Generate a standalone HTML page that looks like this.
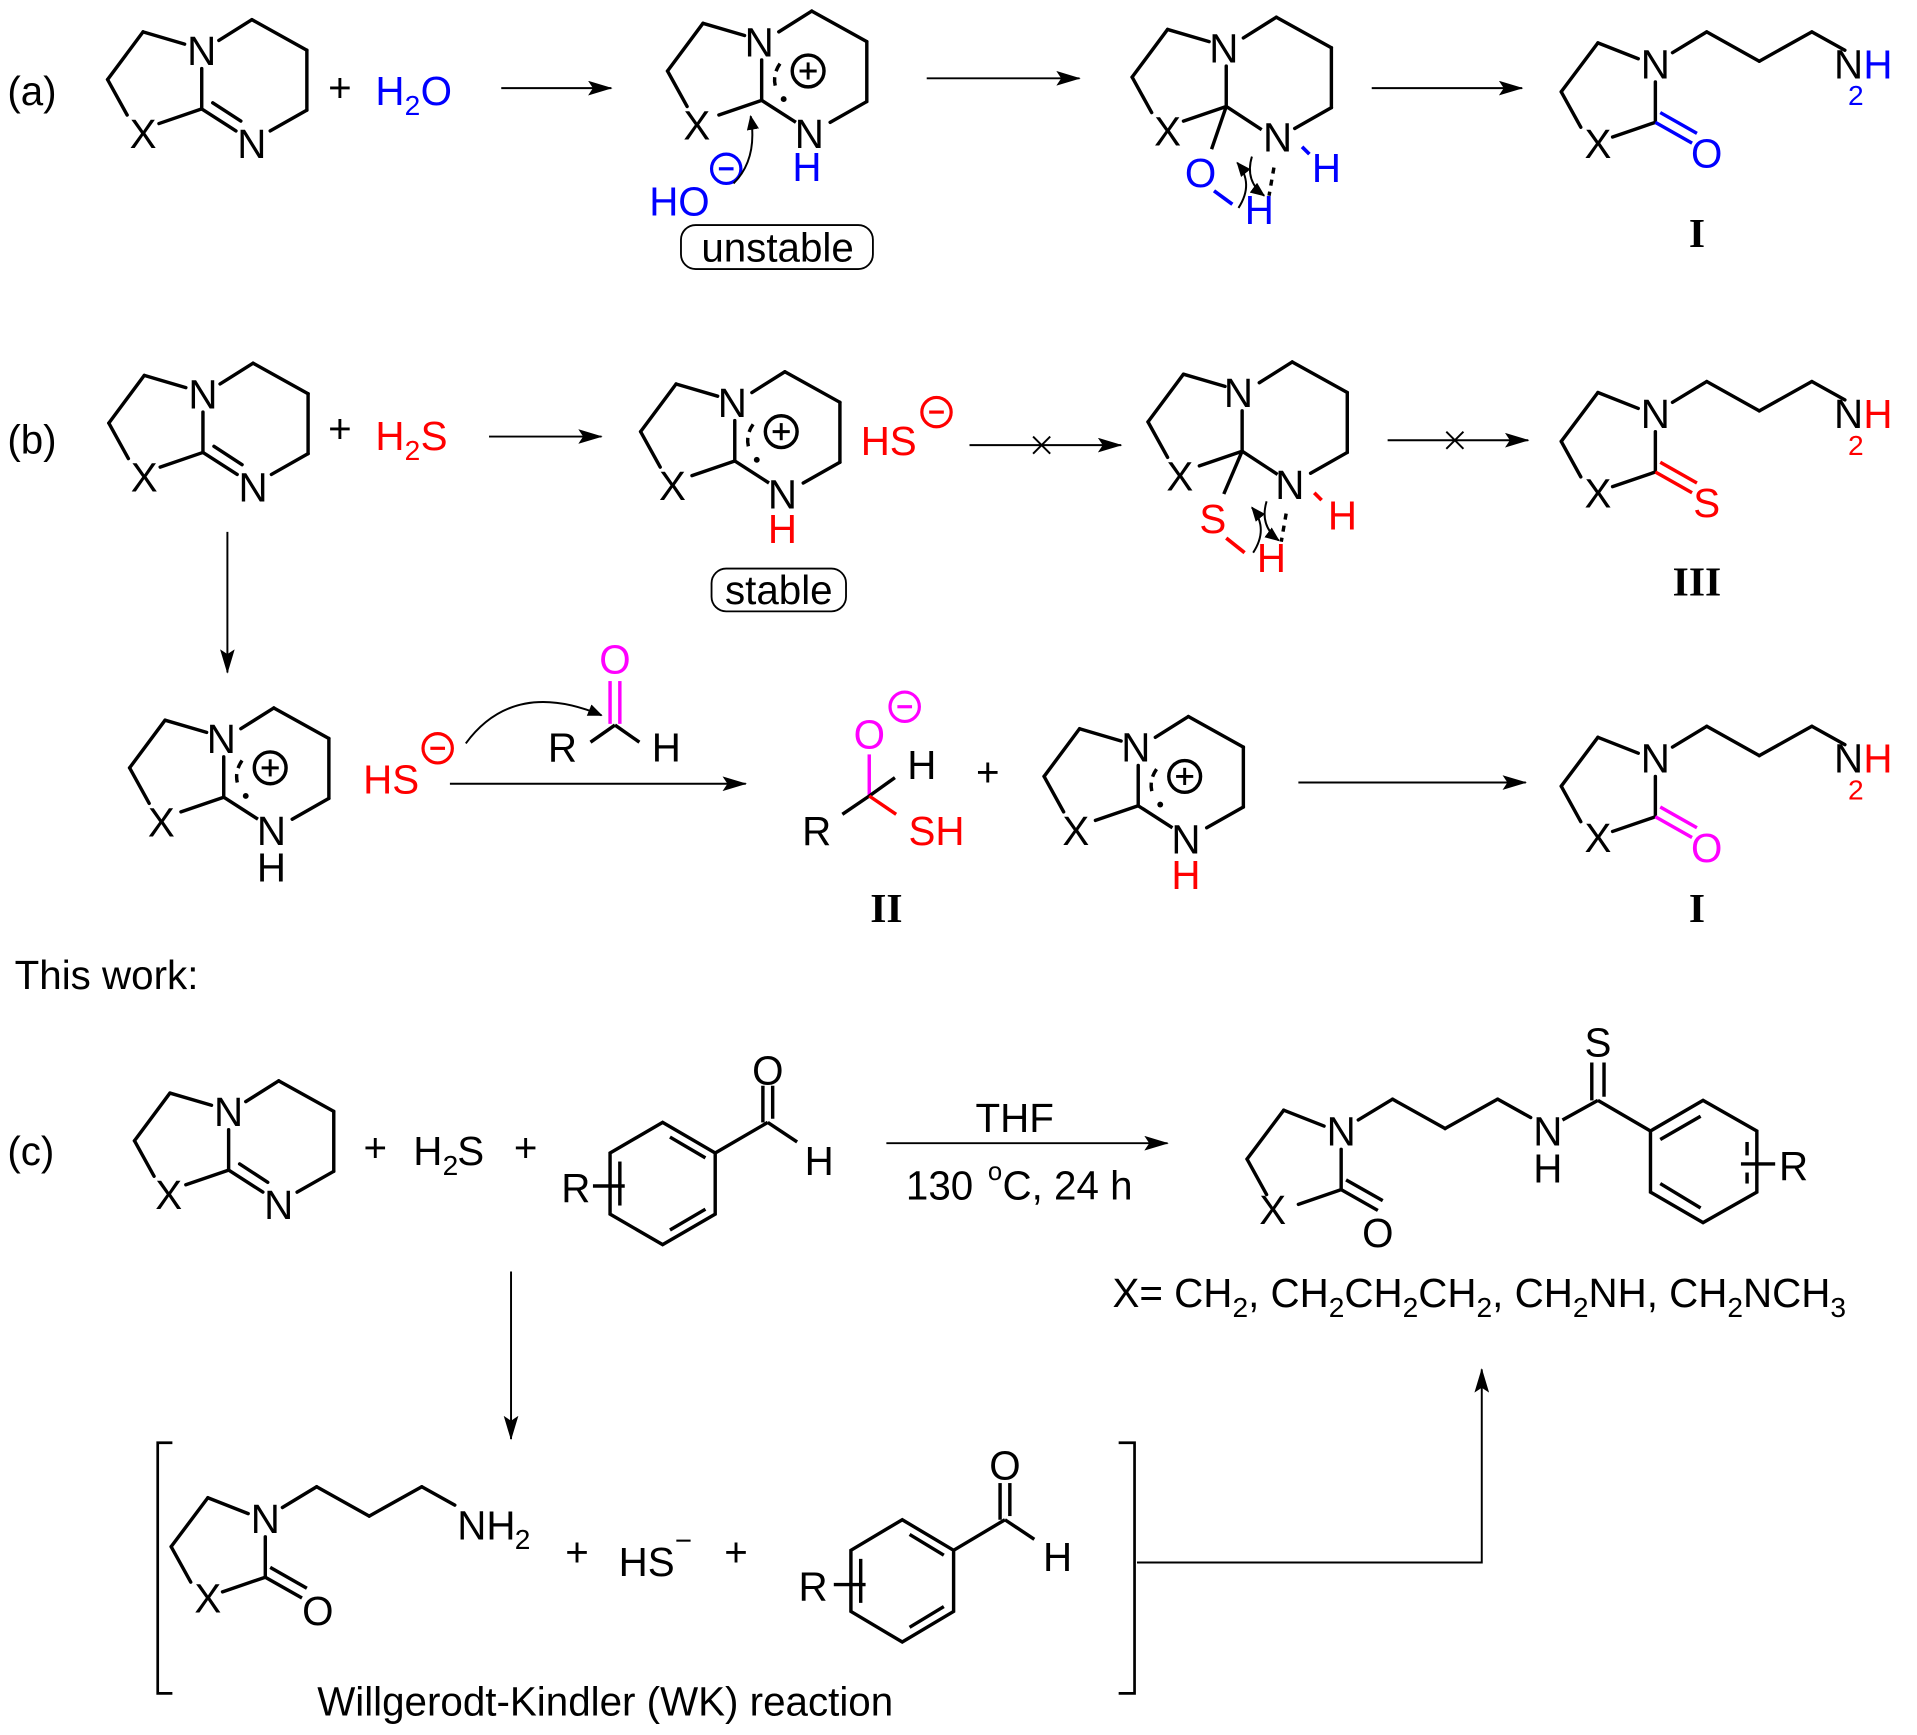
<!DOCTYPE html>
<html><head><meta charset="utf-8"><style>
html,body{margin:0;padding:0;background:#fff;}
svg{display:block;}
text{font-family:"Liberation Sans",sans-serif;font-size:33px;}
.c{text-anchor:middle;}
.b{fill:#0000ff}.r{fill:#ff0000}.m{fill:#ff00ff}
.s{font-size:23px;}
.rm{font-family:"Liberation Serif",serif;font-weight:bold;font-size:34px;text-anchor:middle;}
</style></head><body>
<svg width="1917" height="1735" viewBox="0 0 1568 1419" xmlns="http://www.w3.org/2000/svg">
<defs>
<marker id="ah" markerWidth="12" markerHeight="10" refX="11" refY="5" orient="auto" markerUnits="userSpaceOnUse" viewBox="0 0 12 10"><path d="M0,0 L12,5 L0,10 Z" fill="#000"/></marker>
<marker id="ah2" markerWidth="20" markerHeight="12" refX="19" refY="6" orient="auto" markerUnits="userSpaceOnUse" viewBox="0 0 20 12"><path d="M0,0 L20,6 L0,12 L4,6 Z" fill="#000"/></marker>
<g id="ring" stroke="#000" stroke-width="2.8" fill="none" stroke-linecap="round">
<line x1="0" y1="0" x2="0" y2="-33"/>
<line x1="-14" y1="-53" x2="-48" y2="-63"/>
<line x1="-48" y1="-63" x2="-77" y2="-24"/>
<line x1="-77" y1="-24" x2="-61" y2="5"/>
<line x1="-35" y1="12" x2="0" y2="0"/>
<line x1="14" y1="-56" x2="41" y2="-73"/>
<line x1="41" y1="-73" x2="86" y2="-48"/>
<line x1="86" y1="-48" x2="86" y2="1"/>
<line x1="86" y1="1" x2="56" y2="18"/>
</g>
<g id="amd"><use href="#ring"/>
<g stroke="#000" stroke-width="2.8" stroke-linecap="round"><line x1="0" y1="0" x2="28" y2="18"/><line x1="9" y1="-5" x2="32" y2="10"/></g></g>
<g id="amdp"><use href="#ring"/>
<g stroke="#000" stroke-width="2.8" fill="none"><line x1="0" y1="0" x2="28" y2="18"/>
<path d="M15,-30 Q8,-20 12,-9" stroke-dasharray="7 5"/><circle cx="38" cy="-24" r="13"/>
<line x1="31" y1="-24" x2="45" y2="-24" stroke-width="2.4"/><line x1="38" y1="-31" x2="38" y2="-17" stroke-width="2.4"/></g>
<circle cx="18" cy="-1" r="2.4" fill="#000"/></g>
<g id="prod" stroke="#000" stroke-width="2.8" fill="none" stroke-linecap="round">
<line x1="-14" y1="-4" x2="-47" y2="-17"/>
<line x1="-47" y1="-17" x2="-77" y2="23"/>
<line x1="-77" y1="23" x2="-61" y2="52"/>
<line x1="-35" y1="60" x2="0" y2="48"/>
<line x1="0" y1="48" x2="0" y2="15"/>
<line x1="14" y1="-9" x2="42" y2="-26"/>
<line x1="42" y1="-26" x2="85" y2="-2"/>
<line x1="85" y1="-2" x2="128" y2="-26"/>
<line x1="128" y1="-26" x2="155" y2="-11"/>
</g>
</defs>

<!-- (a) -->
<text x="6" y="86">(a)</text>
<use href="#amd" x="165" y="89"/>
<text x="165" y="53" class="c">N</text><text x="117" y="121" class="c">X</text><text x="206" y="129" class="c">N</text>
<text x="278" y="83" class="c">+</text>
<text x="307" y="86" class="b">H</text><text x="331" y="94" class="b s">2</text><text x="344" y="86" class="b">O</text>
<line x1="410" y1="72" x2="500" y2="72" stroke="#000" stroke-width="1.6" marker-end="url(#ah2)"/>

<use href="#amdp" x="623" y="82"/>
<text x="621" y="46" class="c">N</text><text x="570" y="114" class="c">X</text><text x="662" y="121" class="c">N</text><text x="660" y="148" class="c b">H</text>
<text x="531" y="176" class="b">HO</text>
<circle cx="594" cy="138" r="12" fill="none" stroke="#0000ff" stroke-width="2.6"/><line x1="588" y1="138" x2="600" y2="138" stroke="#0000ff" stroke-width="2.6"/>
<path d="M600,150 Q620,130 614,95" fill="none" stroke="#000" stroke-width="1.6" marker-end="url(#ah)"/>
<rect x="557" y="184" width="157" height="36" rx="12" fill="none" stroke="#000" stroke-width="1.5"/>
<text x="636" y="214" class="c">unstable</text>
<line x1="758" y1="64" x2="883" y2="64" stroke="#000" stroke-width="1.6" marker-end="url(#ah2)"/>

<use href="#ring" x="1003" y="87"/>
<g stroke="#000" stroke-width="2.8"><line x1="1003" y1="87" x2="1032" y2="106"/><line x1="1003" y1="87" x2="991" y2="122"/></g>
<text x="1001" y="51" class="c">N</text><text x="955" y="119" class="c">X</text><text x="1045" y="124" class="c">N</text>
<text x="982" y="153" class="c b">O</text><text x="1085" y="149" class="c b">H</text><text x="1030" y="183" class="c b">H</text>
<line x1="993" y1="156" x2="1008" y2="167" stroke="#0000ff" stroke-width="3"/>
<line x1="1065" y1="120" x2="1071" y2="126" stroke="#0000ff" stroke-width="3"/>
<line x1="1042" y1="137" x2="1038" y2="160" stroke="#000" stroke-width="2.8" stroke-dasharray="5 5"/>
<path d="M1013,170 Q1026,150 1012,133" fill="none" stroke="#000" stroke-width="1.6" marker-end="url(#ah)"/>
<path d="M1024,128 Q1018,148 1034,160" fill="none" stroke="#000" stroke-width="1.6" marker-end="url(#ah)"/>
<line x1="1122" y1="72" x2="1245" y2="72" stroke="#000" stroke-width="1.6" marker-end="url(#ah2)"/>

<use href="#prod" x="1354" y="52"/>
<g stroke="#0000ff" stroke-width="2.8"><line x1="1354" y1="100" x2="1384" y2="117"/><line x1="1358" y1="92" x2="1388" y2="109"/></g>
<text x="1354" y="64" class="c">N</text><text x="1307" y="129" class="c">X</text><text x="1396" y="137" class="c b">O</text>
<text x="1512" y="64" class="c">N</text><text x="1536" y="64" class="c b">H</text><text x="1518" y="86" class="c b s">2</text>
<text x="1388" y="202" class="rm">I</text>

<!-- (b) -->
<text x="6" y="371">(b)</text>
<use href="#amd" x="166" y="370"/>
<text x="166" y="334" class="c">N</text><text x="118" y="402" class="c">X</text><text x="207" y="410" class="c">N</text>
<text x="278" y="362" class="c">+</text>
<text x="307" y="368" class="r">H</text><text x="331" y="376" class="r s">2</text><text x="344" y="368" class="r">S</text>
<line x1="400" y1="357" x2="492" y2="357" stroke="#000" stroke-width="1.6" marker-end="url(#ah2)"/>

<use href="#amdp" x="601" y="377"/>
<text x="599" y="341" class="c">N</text><text x="550" y="409" class="c">X</text><text x="640" y="416" class="c">N</text><text x="640" y="444" class="c r">H</text>
<text x="704" y="372" class="r">HS</text>
<circle cx="766" cy="337" r="12" fill="none" stroke="#ff0000" stroke-width="2.6"/><line x1="760" y1="337" x2="772" y2="337" stroke="#ff0000" stroke-width="2.6"/>
<rect x="582" y="465" width="110" height="35" rx="12" fill="none" stroke="#000" stroke-width="1.5"/>
<text x="637" y="494" class="c">stable</text>
<line x1="793" y1="364" x2="917" y2="364" stroke="#000" stroke-width="1.6" marker-end="url(#ah2)"/>
<path d="M845,357 L859,371 M859,357 L845,371" stroke="#000" stroke-width="1.6"/>

<use href="#ring" x="1016" y="369"/>
<g stroke="#000" stroke-width="2.8"><line x1="1016" y1="369" x2="1045" y2="388"/><line x1="1016" y1="369" x2="1001" y2="404"/></g>
<text x="1013" y="333" class="c">N</text><text x="965" y="401" class="c">X</text><text x="1055" y="408" class="c">N</text>
<text x="992" y="436" class="c r">S</text><text x="1098" y="433" class="c r">H</text><text x="1040" y="468" class="c r">H</text>
<line x1="1003" y1="440" x2="1018" y2="452" stroke="#ff0000" stroke-width="3"/>
<line x1="1075" y1="403" x2="1081" y2="409" stroke="#ff0000" stroke-width="3"/>
<line x1="1052" y1="420" x2="1048" y2="443" stroke="#000" stroke-width="2.8" stroke-dasharray="5 5"/>
<path d="M1025,452 Q1038,432 1024,415" fill="none" stroke="#000" stroke-width="1.6" marker-end="url(#ah)"/>
<path d="M1036,410 Q1030,430 1046,442" fill="none" stroke="#000" stroke-width="1.6" marker-end="url(#ah)"/>
<line x1="1135" y1="360" x2="1250" y2="360" stroke="#000" stroke-width="1.6" marker-end="url(#ah2)"/>
<path d="M1183,353 L1197,367 M1197,353 L1183,367" stroke="#000" stroke-width="1.6"/>

<use href="#prod" x="1354" y="338"/>
<g stroke="#ff0000" stroke-width="2.8"><line x1="1354" y1="386" x2="1384" y2="403"/><line x1="1358" y1="378" x2="1388" y2="395"/></g>
<text x="1354" y="350" class="c">N</text><text x="1307" y="415" class="c">X</text><text x="1396" y="423" class="c r">S</text>
<text x="1512" y="350" class="c">N</text><text x="1536" y="350" class="c r">H</text><text x="1518" y="372" class="c r s">2</text>
<text x="1388" y="487" class="rm">III</text>

<line x1="186" y1="435" x2="186" y2="550" stroke="#000" stroke-width="1.6" marker-end="url(#ah2)"/>

<use href="#amdp" x="183" y="652"/>
<text x="181" y="616" class="c">N</text><text x="132" y="684" class="c">X</text><text x="222" y="691" class="c">N</text><text x="222" y="721" class="c">H</text>
<text x="297" y="649" class="r">HS</text>
<circle cx="358" cy="612" r="12" fill="none" stroke="#ff0000" stroke-width="2.6"/><line x1="352" y1="612" x2="364" y2="612" stroke="#ff0000" stroke-width="2.6"/>
<path d="M381,608 Q420,555 492,585" fill="none" stroke="#000" stroke-width="1.6" marker-end="url(#ah)"/>
<text x="503" y="551" class="c m">O</text>
<g stroke="#ff00ff" stroke-width="2.8"><line x1="499" y1="557" x2="499" y2="592"/><line x1="507" y1="557" x2="507" y2="592"/></g>
<g stroke="#000" stroke-width="2.8"><line x1="503" y1="593" x2="483" y2="607"/><line x1="503" y1="593" x2="523" y2="607"/></g>
<text x="460" y="623" class="c">R</text><text x="545" y="623" class="c">H</text>
<line x1="368" y1="641" x2="610" y2="641" stroke="#000" stroke-width="1.6" marker-end="url(#ah2)"/>

<text x="711" y="612" class="c m">O</text>
<circle cx="740" cy="578" r="12" fill="none" stroke="#ff00ff" stroke-width="2.6"/><line x1="734" y1="578" x2="746" y2="578" stroke="#ff00ff" stroke-width="2.6"/>
<line x1="711" y1="617" x2="711" y2="651" stroke="#ff00ff" stroke-width="2.8"/>
<line x1="711" y1="651" x2="689" y2="666" stroke="#000" stroke-width="2.8"/>
<line x1="711" y1="651" x2="732" y2="636" stroke="#000" stroke-width="2.8"/>
<line x1="711" y1="651" x2="733" y2="666" stroke="#ff0000" stroke-width="2.8"/>
<text x="754" y="637" class="c">H</text><text x="668" y="691" class="c">R</text><text x="766" y="691" class="c r">SH</text>
<text x="725" y="754" class="rm">II</text>
<text x="808" y="643" class="c">+</text>

<use href="#amdp" x="931" y="659"/>
<text x="929" y="623" class="c">N</text><text x="880" y="691" class="c">X</text><text x="970" y="698" class="c">N</text><text x="970" y="727" class="c r">H</text>
<line x1="1062" y1="640" x2="1248" y2="640" stroke="#000" stroke-width="1.6" marker-end="url(#ah2)"/>

<use href="#prod" x="1354" y="620"/>
<g stroke="#ff00ff" stroke-width="2.8"><line x1="1354" y1="668" x2="1384" y2="685"/><line x1="1358" y1="660" x2="1388" y2="677"/></g>
<text x="1354" y="632" class="c">N</text><text x="1307" y="697" class="c">X</text><text x="1396" y="705" class="c m">O</text>
<text x="1512" y="632" class="c">N</text><text x="1536" y="632" class="c r">H</text><text x="1518" y="654" class="c r s">2</text>
<text x="1388" y="754" class="rm">I</text>

<text x="12" y="809">This work:</text>

<!-- (c) -->
<text x="6" y="953">(c)</text>
<use href="#amd" x="187" y="957"/>
<text x="187" y="921" class="c">N</text><text x="138" y="989" class="c">X</text><text x="228" y="997" class="c">N</text>
<text x="307" y="950" class="c">+</text>
<text x="338" y="953">H</text><text x="362" y="961" class="s">2</text><text x="374" y="953">S</text>
<text x="430" y="950" class="c">+</text>
<g stroke="#000" stroke-width="2.8" fill="none">
<polygon points="542,918 585,943 585,993 542,1018 499,993 499,943"/>
<line x1="548" y1="930" x2="577" y2="947"/><line x1="577" y1="989" x2="548" y2="1006"/><line x1="507" y1="950" x2="507" y2="986"/>
<line x1="585" y1="943" x2="628" y2="918"/><line x1="624" y1="888" x2="624" y2="918"/><line x1="632" y1="888" x2="632" y2="915"/>
<line x1="628" y1="918" x2="652" y2="934"/><line x1="485" y1="970" x2="511" y2="970"/></g>
<text x="628" y="887" class="c">O</text><text x="670" y="961" class="c">H</text><text x="471" y="983" class="c">R</text>
<line x1="725" y1="935" x2="955" y2="935" stroke="#000" stroke-width="1.6" marker-end="url(#ah2)"/>
<text x="830" y="926" class="c">THF</text>
<text x="741" y="981">130 </text><text x="808" y="965" style="font-size:21px">o</text><text x="820" y="981">C, 24 h</text>

<use href="#prod" x="1097" y="925"/>
<g stroke="#000" stroke-width="2.8" fill="none">
<line x1="1097" y1="973" x2="1127" y2="990"/><line x1="1101" y1="965" x2="1131" y2="982"/>
<line x1="1278" y1="916" x2="1307" y2="900"/><line x1="1302" y1="869" x2="1302" y2="900"/><line x1="1312" y1="869" x2="1312" y2="897"/>
<line x1="1307" y1="900" x2="1350" y2="925"/>
<polygon points="1350,925 1393,900 1437,925 1437,975 1393,1000 1350,975"/>
<line x1="1358" y1="932" x2="1391" y2="913"/><line x1="1429" y1="934" x2="1429" y2="945"/><line x1="1429" y1="959" x2="1429" y2="968"/><line x1="1358" y1="968" x2="1391" y2="988"/>
<line x1="1424" y1="952" x2="1452" y2="952"/></g>
<text x="1097" y="937" class="c">N</text><text x="1041" y="1001" class="c">X</text><text x="1127" y="1020" class="c">O</text>
<text x="1266" y="937" class="c">N</text><text x="1266" y="967" class="c">H</text><text x="1307" y="864" class="c">S</text><text x="1467" y="965" class="c">R</text>
<text x="910" y="1069">X= CH<tspan dy="8" class="s">2</tspan><tspan dy="-8">, CH</tspan><tspan dy="8" class="s">2</tspan><tspan dy="-8">CH</tspan><tspan dy="8" class="s">2</tspan><tspan dy="-8">CH</tspan><tspan dy="8" class="s">2</tspan><tspan dy="-8">, CH</tspan><tspan dy="8" class="s">2</tspan><tspan dy="-8">NH, CH</tspan><tspan dy="8" class="s">2</tspan><tspan dy="-8">NCH</tspan><tspan dy="8" class="s">3</tspan></text>

<line x1="418" y1="1040" x2="418" y2="1177" stroke="#000" stroke-width="1.6" marker-end="url(#ah2)"/>
<path d="M141,1180 H129 V1385 H141 M915,1180 H928 V1385 H915" fill="none" stroke="#000" stroke-width="2.2"/>
<use href="#prod" x="217" y="1242"/>
<g stroke="#000" stroke-width="2.8"><line x1="217" y1="1290" x2="247" y2="1307"/><line x1="221" y1="1282" x2="251" y2="1299"/></g>
<text x="217" y="1254" class="c">N</text><text x="170" y="1319" class="c">X</text><text x="260" y="1329" class="c">O</text>
<text x="374" y="1259">NH</text><text x="421" y="1267" class="s">2</text>
<text x="472" y="1281" class="c">+</text>
<text x="506" y="1289">HS</text><text x="552" y="1268" style="font-size:24px">−</text>
<text x="602" y="1281" class="c">+</text>
<g stroke="#000" stroke-width="2.8" fill="none">
<polygon points="738,1243 780,1268 780,1318 738,1343 696,1318 696,1268"/>
<line x1="744" y1="1255" x2="772" y2="1272"/><line x1="772" y1="1314" x2="744" y2="1331"/><line x1="704" y1="1275" x2="704" y2="1311"/>
<line x1="780" y1="1268" x2="822" y2="1243"/><line x1="818" y1="1213" x2="818" y2="1243"/><line x1="826" y1="1213" x2="826" y2="1240"/>
<line x1="822" y1="1243" x2="846" y2="1259"/><line x1="682" y1="1296" x2="708" y2="1296"/></g>
<text x="822" y="1210" class="c">O</text><text x="865" y="1285" class="c">H</text><text x="665" y="1309" class="c">R</text>
<text x="495" y="1403" class="c">Willgerodt-Kindler (WK) reaction</text>
<path d="M930,1278 H1212 V1120" fill="none" stroke="#000" stroke-width="1.6" marker-end="url(#ah2)"/>
</svg>
</body></html>
